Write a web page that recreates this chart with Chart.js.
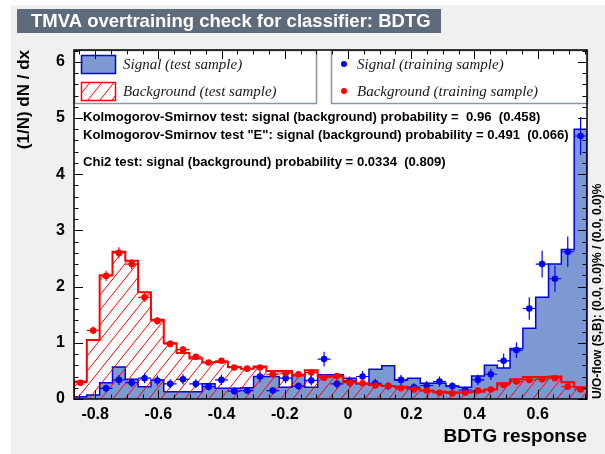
<!DOCTYPE html>
<html>
<head>
<meta charset="utf-8">
<script src="https://cdn.jsdelivr.net/npm/chart.js@4.4.1/dist/chart.umd.min.js"></script>
<style>
  html, body { margin: 0; padding: 0; background: #ffffff; }
  canvas { display: block; }
</style>
</head>
<body>
<canvas id="c" width="605" height="454"></canvas>
<script>
// Binning of the BDTG response histograms
const xMin = -0.867;
const xMax = 0.756;
const nBins = 40;
const yMax = 6.21;

// Axis tick labels
const xTickValues = [-0.8, -0.6, -0.4, -0.2, 0, 0.2, 0.4, 0.6];
const yTickValues = [0, 1, 2, 3, 4, 5, 6];

// Signal, test sample (filled histogram)
const sigTest = [0.04, 0.07, 0.29, 0.57, 0.35, 0.22, 0.34, 0.13, 0.13, 0.13,
                 0.27, 0.19, 0.19, 0.20, 0.40, 0.40, 0.21, 0.43, 0.21, 0.43,
                 0.43, 0.37, 0.27, 0.53, 0.59, 0.34, 0.37, 0.28, 0.28, 0.23,
                 0.21, 0.41, 0.60, 0.55, 0.90, 1.26, 1.81, 2.40, 2.66, 4.80];

// Background, test sample (hatched histogram)
const bkgTest = [0.31, 1.05, 2.20, 2.62, 2.46, 1.90, 1.41, 0.99, 0.82, 0.72,
                 0.65, 0.66, 0.57, 0.54, 0.58, 0.50, 0.50, 0.42, 0.51, 0.40,
                 0.40, 0.32, 0.28, 0.25, 0.23, 0.22, 0.18, 0.15, 0.13, 0.12,
                 0.12, 0.13, 0.17, 0.28, 0.35, 0.39, 0.39, 0.40, 0.30, 0.21];

// Signal, training sample (markers) and their errors; empty bins are not drawn
const sigTrain = [0.00, 0.00, 0.19, 0.34, 0.29, 0.37, 0.33, 0.27, 0.35, 0.27,
                  0.22, 0.34, 0.14, 0.15, 0.40, 0.15, 0.37, 0.23, 0.33, 0.71,
                  0.27, 0.31, 0.40, 0.28, 0.23, 0.34, 0.21, 0.24, 0.31, 0.23,
                  0.16, 0.34, 0.44, 0.68, 0.87, 1.61, 2.40, 2.14, 2.62, 4.68];
const sigTrainErr = [0.00, 0.00, 0.07, 0.09, 0.08, 0.09, 0.09, 0.08, 0.09, 0.08,
                     0.07, 0.09, 0.06, 0.06, 0.10, 0.06, 0.09, 0.07, 0.09, 0.13,
                     0.08, 0.09, 0.10, 0.08, 0.07, 0.09, 0.07, 0.08, 0.09, 0.07,
                     0.06, 0.09, 0.10, 0.13, 0.14, 0.20, 0.24, 0.23, 0.27, 0.34];

// Background, training sample (markers) and their errors
const bkgTrain = [0.29, 1.22, 2.19, 2.60, 2.40, 1.81, 1.39, 0.98, 0.88, 0.75,
                  0.65, 0.68, 0.56, 0.54, 0.56, 0.44, 0.46, 0.44, 0.47, 0.38,
                  0.41, 0.29, 0.28, 0.24, 0.23, 0.19, 0.17, 0.15, 0.11, 0.10,
                  0.11, 0.15, 0.17, 0.25, 0.31, 0.34, 0.35, 0.37, 0.22, 0.17];
const bkgTrainErr = [0.03, 0.07, 0.09, 0.10, 0.09, 0.08, 0.07, 0.06, 0.06, 0.05,
                     0.05, 0.05, 0.04, 0.04, 0.04, 0.04, 0.04, 0.04, 0.04, 0.04,
                     0.04, 0.03, 0.03, 0.03, 0.03, 0.03, 0.02, 0.02, 0.02, 0.02,
                     0.02, 0.02, 0.02, 0.03, 0.03, 0.03, 0.03, 0.04, 0.03, 0.02];

const titleText = 'TMVA overtraining check for classifier: BDTG';
const statLines = [
  'Kolmogorov-Smirnov test: signal (background) probability =  0.96  (0.458)',
  'Kolmogorov-Smirnov test "E": signal (background) probability = 0.491  (0.066)',
  'Chi2 test: signal (background) probability = 0.0334  (0.809)'
];
const flowText = 'U/O-flow (S,B): (0.0, 0.0)% / (0.0, 0.0)%';

// Colours
const COL_CANVAS = '#f0f0f0';
const COL_TITLEBOX = '#5d6b7d';
const COL_LEGEND_BORDER = '#8a96a8';
const COL_SIG_FILL = '#7d99d1';
const COL_SIG_LINE = '#0000ee';
const COL_BKG = '#ff0000';
const COL_SIG_MARK = '#0000ff';

const binWidth = (xMax - xMin) / nBins;
const edges = Array.from({ length: nBins + 1 }, (_, i) => xMin + i * binWidth);
const centers = Array.from({ length: nBins }, (_, i) => xMin + (i + 0.5) * binWidth);

function histPoints(vals) {
  const pts = [{ x: edges[0], y: 0 }];
  vals.forEach((v, i) => pts.push({ x: edges[i], y: v }));
  pts.push({ x: edges[nBins], y: vals[nBins - 1] });
  pts.push({ x: edges[nBins], y: 0 });
  return pts;
}
function markerPoints(vals, errs) {
  const pts = [];
  vals.forEach((v, i) => { if (v > 0) pts.push({ x: centers[i], y: v, err: errs[i] }); });
  return pts;
}

// Diagonal red hatch used for the background histogram
function makeHatch() {
  const w = 12, h = 15;
  const c = document.createElement('canvas');
  c.width = w; c.height = h;
  const g = c.getContext('2d');
  g.strokeStyle = COL_BKG;
  g.lineWidth = 1;
  [-w, 0, w].forEach(dx => {
    g.beginPath();
    g.moveTo(dx, h);
    g.lineTo(dx + w, 0);
    g.stroke();
  });
  return g.createPattern(c, 'repeat');
}
const hatch = makeHatch();

const FONT = "'Liberation Sans', Arial, sans-serif";
const SERIF = "'Liberation Serif', 'Times New Roman', serif";

// Error bars under the training-sample markers
const errorBars = {
  id: 'errorBars',
  beforeDatasetDraw(chart, args) {
    const ds = chart.data.datasets[args.index];
    if (!ds.withErrors) return;
    const { ctx, scales: { x, y } } = chart;
    ctx.save();
    ctx.strokeStyle = ds.backgroundColor;
    ctx.lineWidth = 1.2;
    ds.data.forEach(p => {
      const py = y.getPixelForValue(p.y);
      const x0 = x.getPixelForValue(p.x - binWidth / 2);
      const x1 = x.getPixelForValue(p.x + binWidth / 2);
      const ya = y.getPixelForValue(p.y - p.err);
      const yb = y.getPixelForValue(p.y + p.err);
      const px = x.getPixelForValue(p.x);
      ctx.beginPath();
      ctx.moveTo(x0, py); ctx.lineTo(x1, py);
      ctx.moveTo(px, ya); ctx.lineTo(px, yb);
      ctx.stroke();
    });
    ctx.restore();
  }
};

// Canvas background, title box, legend boxes, statistics, frame and ticks
const decorations = {
  id: 'decorations',
  beforeDraw(chart) {
    const { ctx, chartArea: a } = chart;
    ctx.save();
    ctx.fillStyle = '#ffffff';
    ctx.fillRect(0, 0, chart.width, chart.height);
    ctx.fillStyle = COL_CANVAS;
    ctx.fillRect(11, 5, chart.width - 11, chart.height - 5);
    ctx.fillStyle = '#ffffff';
    ctx.fillRect(a.left, a.top, a.right - a.left, a.bottom - a.top);

    // title box
    ctx.fillStyle = COL_TITLEBOX;
    ctx.fillRect(17, 9, 424, 24);
    ctx.fillStyle = '#ffffff';
    ctx.font = 'bold 18.5px ' + FONT;
    ctx.textAlign = 'left';
    ctx.textBaseline = 'middle';
    ctx.fillText(titleText, 31, 21.5);
    ctx.restore();
  },
  afterDraw(chart) {
    const { ctx, chartArea: a, scales: { x, y } } = chart;
    ctx.save();

    // legend: test samples
    ctx.fillStyle = '#ffffff';
    ctx.strokeStyle = COL_LEGEND_BORDER;
    ctx.lineWidth = 1.5;
    ctx.fillRect(a.left, a.top, 242, 53);
    ctx.strokeRect(a.left + 0.5, a.top + 0.5, 242, 53);
    ctx.fillRect(331, a.top, a.right - 331, 53);
    ctx.strokeRect(331.5, a.top + 0.5, a.right - 331, 53);

    ctx.fillStyle = COL_SIG_FILL;
    ctx.fillRect(81, 55, 34, 18);
    ctx.strokeStyle = COL_SIG_LINE;
    ctx.lineWidth = 1.5;
    ctx.strokeRect(81.5, 55.5, 34, 18);
    ctx.fillStyle = hatch;
    ctx.fillRect(81, 82, 34, 18);
    ctx.strokeStyle = COL_BKG;
    ctx.strokeRect(81.5, 82.5, 34, 18);

    ctx.fillStyle = '#1a1a1a';
    ctx.font = 'italic 15px ' + SERIF;
    ctx.textAlign = 'left';
    ctx.textBaseline = 'middle';
    ctx.fillText('Signal (test sample)', 123, 65);
    ctx.fillText('Background (test sample)', 123, 92);
    ctx.fillText('Signal (training sample)', 357, 65);
    ctx.fillText('Background (training sample)', 357, 92);

    ctx.fillStyle = COL_SIG_MARK;
    ctx.beginPath(); ctx.arc(344, 64, 3, 0, Math.PI * 2); ctx.fill();
    ctx.fillStyle = COL_BKG;
    ctx.beginPath(); ctx.arc(344, 91, 3, 0, Math.PI * 2); ctx.fill();

    // statistics
    ctx.fillStyle = '#000000';
    ctx.font = 'bold 13.1px ' + FONT;
    ctx.fillText(statLines[0], 83, 117);
    ctx.fillText(statLines[1], 83, 135);
    ctx.fillText(statLines[2], 83, 162);

    // under/overflow note
    ctx.save();
    ctx.translate(598, a.bottom);
    ctx.rotate(-Math.PI / 2);
    ctx.font = 'bold 12px ' + FONT;
    ctx.textAlign = 'left';
    ctx.fillText(flowText, 0, 0);
    ctx.restore();

    // frame
    ctx.strokeStyle = '#000000';
    ctx.lineWidth = 1.5;
    ctx.strokeRect(a.left, a.top, a.right - a.left, a.bottom - a.top);

    // ticks drawn inward on all four sides
    ctx.lineWidth = 1;
    ctx.beginPath();
    const majX = 9, minX = 4.5;
    xTickValues.forEach(v => {
      const px = Math.round(x.getPixelForValue(v)) + 0.5;
      ctx.moveTo(px, a.bottom); ctx.lineTo(px, a.bottom - majX);
      ctx.moveTo(px, a.top); ctx.lineTo(px, a.top + majX);
    });
    for (let k = Math.ceil(xMin / 0.05); k * 0.05 <= xMax; k++) {
      if (k % 4 === 0) continue;
      const px = Math.round(x.getPixelForValue(k * 0.05)) + 0.5;
      ctx.moveTo(px, a.bottom); ctx.lineTo(px, a.bottom - minX);
      ctx.moveTo(px, a.top); ctx.lineTo(px, a.top + minX);
    }
    yTickValues.forEach(v => {
      const py = Math.round(y.getPixelForValue(v)) + 0.5;
      ctx.moveTo(a.left, py); ctx.lineTo(a.left + majX, py);
      ctx.moveTo(a.right, py); ctx.lineTo(a.right - majX, py);
    });
    for (let k = 1; k * 0.2 <= yMax; k++) {
      if (k % 5 === 0) continue;
      const py = Math.round(y.getPixelForValue(k * 0.2)) + 0.5;
      ctx.moveTo(a.left, py); ctx.lineTo(a.left + minX, py);
      ctx.moveTo(a.right, py); ctx.lineTo(a.right - minX, py);
    }
    ctx.stroke();
    ctx.restore();
  }
};

new Chart(document.getElementById('c'), {
  type: 'line',
  data: {
    datasets: [
      {
        label: 'Background (training sample)',
        data: markerPoints(bkgTrain, bkgTrainErr),
        withErrors: true,
        showLine: false,
        pointRadius: 3.3,
        pointBorderWidth: 0,
        backgroundColor: COL_BKG,
        borderColor: COL_BKG,
        order: 1
      },
      {
        label: 'Signal (training sample)',
        data: markerPoints(sigTrain, sigTrainErr),
        withErrors: true,
        showLine: false,
        pointRadius: 3.3,
        pointBorderWidth: 0,
        backgroundColor: COL_SIG_MARK,
        borderColor: COL_SIG_MARK,
        order: 2
      },
      {
        label: 'Background (test sample)',
        data: histPoints(bkgTest),
        stepped: 'before',
        borderColor: COL_BKG,
        borderWidth: 2,
        backgroundColor: hatch,
        fill: 'origin',
        pointRadius: 0,
        order: 3
      },
      {
        label: 'Signal (test sample)',
        data: histPoints(sigTest),
        stepped: 'before',
        borderColor: COL_SIG_LINE,
        borderWidth: 1.5,
        backgroundColor: COL_SIG_FILL,
        fill: 'origin',
        pointRadius: 0,
        order: 4
      }
    ]
  },
  options: {
    responsive: false,
    animation: false,
    devicePixelRatio: 1,
    layout: { padding: { left: 0, top: 50, right: 18, bottom: 0 } },
    plugins: { legend: { display: false }, tooltip: { enabled: false } },
    scales: {
      x: {
        type: 'linear',
        min: xMin,
        max: xMax,
        grid: { display: false, drawTicks: false },
        border: { display: false },
        afterBuildTicks(scale) { scale.ticks = xTickValues.map(v => ({ value: v })); },
        afterFit(scale) { scale.height = 55; },
        ticks: {
          padding: 6,
          color: '#000000',
          font: { family: FONT, size: 16, weight: 'bold' },
          maxRotation: 0,
          callback: v => String(Math.round(v * 10) / 10)
        },
        title: {
          display: true,
          text: 'BDTG response',
          align: 'end',
          color: '#000000',
          font: { family: FONT, size: 19, weight: 'bold' },
          padding: { top: 0, bottom: 6 }
        }
      },
      y: {
        type: 'linear',
        min: 0,
        max: yMax,
        grid: { display: false, drawTicks: false },
        border: { display: false },
        afterBuildTicks(scale) { scale.ticks = yTickValues.map(v => ({ value: v })); },
        afterFit(scale) { scale.width = 74; },
        ticks: {
          padding: 9,
          color: '#000000',
          font: { family: FONT, size: 16, weight: 'bold' },
          callback: v => String(v)
        },
        title: {
          display: true,
          text: '(1/N) dN / dx',
          align: 'end',
          color: '#000000',
          font: { family: FONT, size: 17, weight: 'bold' },
          padding: { top: 14, bottom: 0 }
        }
      }
    }
  },
  plugins: [errorBars, decorations]
});
</script>
</body>
</html>
